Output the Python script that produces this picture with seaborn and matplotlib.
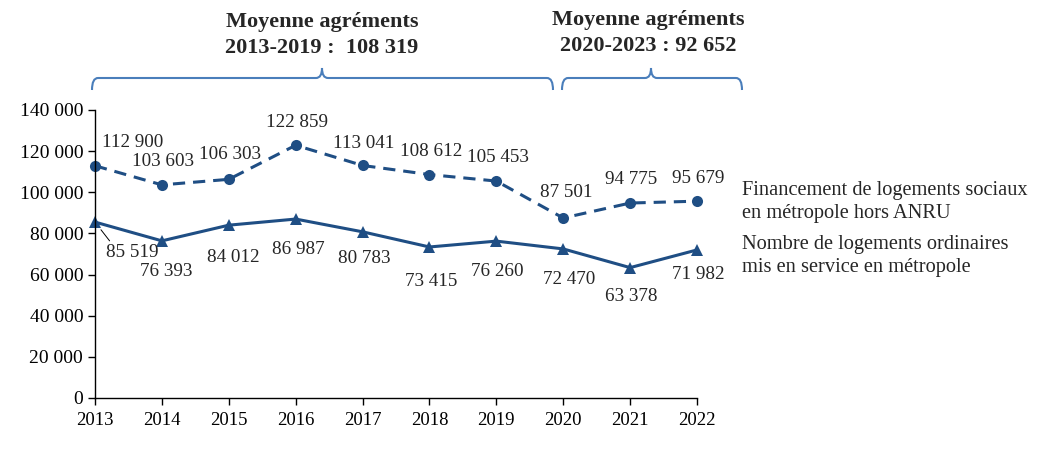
import numpy as np
import pandas as pd
import matplotlib
matplotlib.use("Agg")
import matplotlib.pyplot as plt
from matplotlib.path import Path
from matplotlib.patches import PathPatch
from matplotlib.ticker import FuncFormatter
import seaborn as sns

# Données
annees = [2013, 2014, 2015, 2016, 2017, 2018, 2019, 2020, 2021, 2022]
financement = [112900, 103603, 106303, 122859, 113041, 108612, 105453, 87501, 94775, 95679]
mis_en_service = [85519, 76393, 84012, 86987, 80783, 73415, 76260, 72470, 63378, 71982]

nom_fin = "Financement de logements sociaux\nen métropole hors ANRU"
nom_mes = "Nombre de logements ordinaires\nmis en service en métropole"
titre_1 = "Moyenne agréments\n2013-2019 :  108 319"
titre_2 = "Moyenne agréments\n2020-2023 : 92 652"

df = pd.DataFrame({"annee": annees, "financement": financement, "mis_en_service": mis_en_service})

sns.set_style("ticks")
plt.rcParams['font.family'] = ['Liberation Serif', 'DejaVu Serif']

W, H = 1044, 454
fig = plt.figure(figsize=(W / 100, H / 100), dpi=100)
ax = fig.add_axes([95 / W, 1 - 398 / H, (697 - 95) / W, (398 - 110) / H])

bleu = "#1F4E84"
sns.lineplot(data=df, x="annee", y="financement", ax=ax, color=bleu, lw=2.2, clip_on=False,
             marker="o", markersize=8, markeredgewidth=0, linestyle=(0, (4, 2.6)))
sns.lineplot(data=df, x="annee", y="mis_en_service", ax=ax, color=bleu, lw=2.2, clip_on=False,
             marker="^", markersize=8.5, markeredgewidth=0)

ax.set_xlim(2013, 2022)
ax.set_ylim(0, 140000)
ax.set_xticks(annees)
ax.set_yticks(np.arange(0, 140001, 20000))
ax.yaxis.set_major_formatter(FuncFormatter(lambda v, p: f"{int(v):,}".replace(",", " ")))
ax.set_xlabel("")
ax.set_ylabel("")
for s in ["top", "right"]:
    ax.spines[s].set_visible(False)
for s in ["left", "bottom"]:
    ax.spines[s].set_color("black")
    ax.spines[s].set_linewidth(1)
ax.tick_params(axis="both", direction="out", length=5, width=1, colors="black")
ax.tick_params(axis="y", labelsize=14)
ax.tick_params(axis="x", labelsize=13.5, pad=5)

fmt = lambda v: f"{v:,}".replace(",", " ")

# étiquettes
off_fin = [(27, 17), (1, 17), (1, 18), (1, 16.5), (1, 15.5), (1, 16.5), (1, 17), (2, 18), (1, 17), (1, 16)]
off_mes = [(27, -22), (3, -22), (3, -23), (2, -22), (1, -19), (1, -24.5), (1, -22), (4, -22), (1, -21), (1, -18)]
for x, y, o in zip(annees, financement, off_fin):
    ax.annotate(fmt(y), (x, y), xytext=o, textcoords="offset points",
                ha="center", va="center", fontsize=13.8, annotation_clip=False)
for i, (x, y, o) in enumerate(zip(annees, mis_en_service, off_mes)):
    fleche = None
    if i == 0:
        fleche = dict(arrowstyle="-", lw=0.7, color="black", relpos=(0.15, 0.85), shrinkA=0, shrinkB=7)
    ax.annotate(fmt(y), (x, y), xytext=o, textcoords="offset points",
                ha="center", va="center", fontsize=13.8, annotation_clip=False, arrowprops=fleche)

# légende
fig.text(742 / W, 1 - 202 / H, nom_fin, ha="left", va="center", fontsize=14.7, linespacing=1.25)
fig.text(742 / W, 1 - 256 / H, nom_mes, ha="left", va="center", fontsize=14.7, linespacing=1.25)

# accolades
def accolade(x0, x1, xm, ybas=90, yh=78, ypic=68, r=6):
    px = lambda x, y: (x / W, 1 - y / H)
    verts = [px(x0, ybas), px(x0, yh), px(x0 + r, yh),
             px(xm - r, yh), px(xm, yh), px(xm, ypic),
             px(xm, yh), px(xm + r, yh),
             px(x1 - r, yh), px(x1, yh), px(x1, ybas)]
    codes = [Path.MOVETO, Path.CURVE3, Path.CURVE3,
             Path.LINETO, Path.CURVE3, Path.CURVE3,
             Path.CURVE3, Path.CURVE3,
             Path.LINETO, Path.CURVE3, Path.CURVE3]
    fig.add_artist(PathPatch(Path(verts, codes), transform=fig.transFigure,
                             fill=False, edgecolor="#4A7EBB", lw=1.5))

accolade(92, 553, 322)
accolade(562, 742, 651)

fig.text(322 / W, 1 - 35 / H, titre_1, ha="center", va="center", fontsize=16,
         fontweight="bold", linespacing=1.35)
fig.text(648 / W, 1 - 33 / H, titre_2, ha="center", va="center", fontsize=16,
         fontweight="bold", linespacing=1.35)

fig.savefig("out.png", dpi=100)
